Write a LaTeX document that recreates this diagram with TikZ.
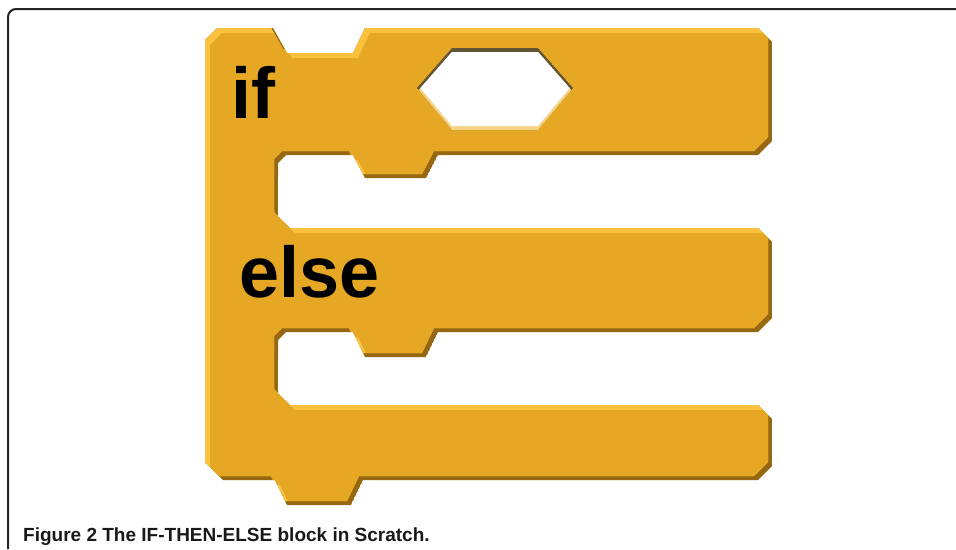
\documentclass[tikz,border=0pt]{standalone}
\usepackage{fontspec}
\usepackage{xcolor}
\usepackage{tikz}
\usetikzlibrary{positioning}
\newfontfamily\blockfont{Liberation Sans}
\newfontfamily\captfont{Liberation Sans}
\definecolor{blkmain}{RGB}{230,167,37}
\definecolor{blklight}{RGB}{250,194,62}
\definecolor{blkdark}{RGB}{150,104,18}
\definecolor{hexdark}{RGB}{98,84,52}
\definecolor{hexlight}{RGB}{245,211,132}
\newcommand{\blockshape}{(205,40) -- (217,28) -- (273,28) -- (287,53) -- (353,53) -- (365,28)
  -- (758,28) -- (772,42) -- (772,141) -- (758,155)
  -- (438,155) -- (426,178) -- (365,178) -- (353,155) -- (286,155) -- (278,163)
  -- (278,216) -- (290,228) -- (758,228) -- (772,242) -- (772,318) -- (758,332)
  -- (438,332) -- (426,357) -- (365,357) -- (353,332) -- (286,332) -- (278,340)
  -- (278,393) -- (290,405) -- (758,405) -- (772,419) -- (772,466) -- (758,480)
  -- (363,480) -- (351,505) -- (287,505) -- (275,480) -- (223,480) -- (205,462) -- cycle}
\newcommand{\hexshape}{(417,88) -- (452,48) -- (538,48) -- (573,88) -- (538,130) -- (452,130) -- cycle}
\tikzset{
  frame/.style   ={draw=black!85, line width=2pt, rounded corners=8pt},
  blocktext/.style={font=\blockfont\bfseries\fontsize{72}{72}\selectfont,
                   text=black, inner sep=0pt, anchor=base west},
  capttext/.style={font=\captfont\bfseries\fontsize{19}{22}\selectfont,
                   text=black!90, inner sep=0pt, anchor=base west}
}
\begin{document}
\begin{tikzpicture}[x=1pt, y=-1pt]
\useasboundingbox (0,0) rectangle (956,549);
\fill[white] (0,0) rectangle (956,549);
\draw[frame] (8,549) |- (956,9);
\begin{scope}
  \clip \blockshape;
  \fill[blkdark] \blockshape;
  \fill[blklight, shift={(-4,-4)}] \blockshape;
  \clip[shift={(5,5)}] \blockshape;
  \fill[blkmain, shift={(-4,-4)}] \blockshape;
\end{scope}
\begin{scope}
  \clip \hexshape;
  \fill[hexdark] \hexshape;
  \fill[hexlight, shift={(0,4)}] \hexshape;
  \clip[shift={(0,-4)}] \hexshape;
  \fill[white, shift={(0,4)}] \hexshape;
\end{scope}
\node[blocktext] (iftext)   at (231,118) {if};
\node[blocktext] (elsetext) at (239,297) {else};
\node[capttext]  (caption)  at (23,541)  {Figure 2 The IF-THEN-ELSE block in Scratch.};
\end{tikzpicture}
\end{document}
